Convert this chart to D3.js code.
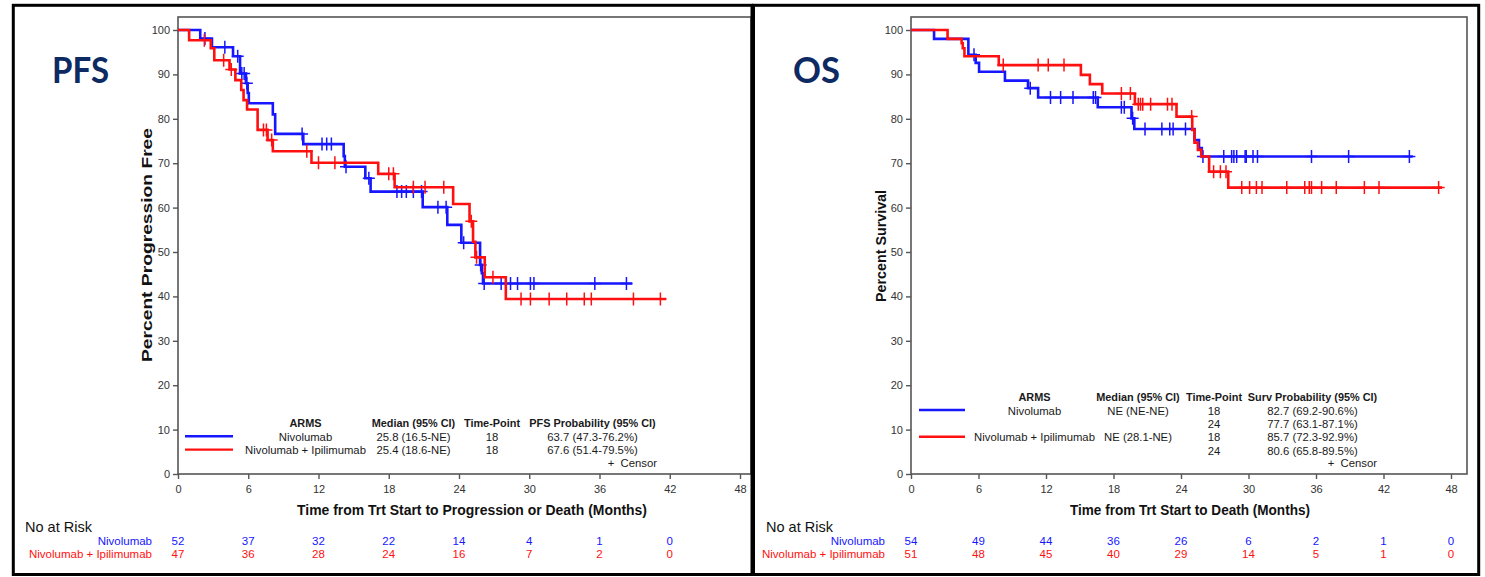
<!DOCTYPE html>
<html><head><meta charset="utf-8">
<script src="https://cdn.jsdelivr.net/npm/d3@7"></script>
<style>
body{margin:0;background:#fff}
svg{display:block}
text{font-family:"Liberation Sans",Arial,sans-serif}
</style>
</head><body>
<svg id="c" width="1485" height="577"></svg>
<script>
// ---------------- DATA ----------------
const timeTicks = [0, 6, 12, 18, 24, 30, 36, 42, 48];
const pctTicks = [0, 10, 20, 30, 40, 50, 60, 70, 80, 90, 100];
const armNames = ["Nivolumab", "Nivolumab + Ipilimumab"];

// PFS – Kaplan-Meier steps [month, percent]
const pfsNivoSteps = [[0,100],[1.9,98.1],[2.9,96.1],[4.7,94.1],[5.3,90.2],[5.8,88.0],[5.95,85.8],[6.05,83.5],[8.1,81.0],[8.3,76.6],[10.7,74.3],[14.15,71.6],[14.25,69.2],[16.0,66.6],[16.45,63.6],[20.9,60.1],[23.0,56.1],[24.2,52.1],[25.8,47.1],[25.95,45.2],[26.05,42.9]];
const pfsNivoEnd = 38.8;
const pfsNivoCensor = [2.3,4.0,5.1,5.45,5.65,5.88,10.6,12.3,12.7,13.1,14.35,16.3,18.7,19.1,19.5,20.1,20.8,22.2,22.9,24.4,25.85,26.15,27.6,28.4,29.0,30.1,30.4,35.6,38.3];
const pfsComboSteps = [[0,100],[0.95,97.7],[2.8,95.9],[3.1,93.2],[4.4,91.1],[4.9,88.7],[5.4,86.5],[5.6,84.2],[5.9,82.1],[6.8,77.5],[7.65,75.2],[8.1,72.7],[11.4,70.1],[17.1,67.6],[18.5,64.6],[23.5,60.8],[24.9,56.9],[25.2,52.3],[25.4,48.8],[26.2,44.3],[28.0,39.4]];
const pfsComboEnd = 41.7;
const pfsComboCensor = [2.25,3.9,4.55,7.3,7.55,8.0,11.0,12.0,13.4,18.0,18.4,20.1,21.1,22.7,25.05,25.5,26.9,29.3,30.1,31.7,33.2,34.7,35.3,38.9,41.2];

// OS – Kaplan-Meier steps [month, percent]
const osNivoSteps = [[0,100],[2.05,98.0],[5.1,94.4],[5.75,92.6],[6.05,90.6],[8.35,88.6],[10.4,86.9],[11.3,84.8],[16.6,82.6],[19.6,80.1],[19.85,77.7],[25.2,75.2],[25.6,73.4],[25.85,71.5]];
const osNivoEnd = 44.6;
const osNivoCensor = [5.6,10.6,12.4,13.3,14.4,16.2,16.4,18.7,18.96,19.7,20.8,22.3,23.0,23.3,24.4,25.95,27.8,28.5,28.7,28.95,29.7,29.8,30.4,30.8,35.6,38.9,44.3];
const osComboSteps = [[0,100],[3.25,98.0],[4.5,97.0],[4.6,95.9],[4.75,94.1],[7.8,92.1],[15.1,89.9],[15.9,87.8],[17.0,85.7],[19.9,83.3],[23.6,80.5],[25.0,77.5],[25.2,74.6],[25.5,73.0],[25.8,71.5],[26.5,68.1],[28.2,64.5]];
const osComboEnd = 47.2;
const osComboCensor = [8.2,11.3,12.2,13.6,18.7,19.5,20.2,20.4,20.6,21.3,22.8,23.2,24.95,26.9,27.5,28.0,29.4,30.1,30.7,31.2,33.4,35.0,35.4,35.6,36.5,37.8,40.3,41.6,46.9];

// Numbers at risk
const pfsRiskNivo = [52, 37, 32, 22, 14, 4, 1, 0];
const pfsRiskCombo = [47, 36, 28, 24, 16, 7, 2, 0];
const osRiskNivo = [54, 49, 44, 36, 26, 6, 2, 1, 0];
const osRiskCombo = [51, 48, 45, 40, 29, 14, 5, 1, 0];

// Legend tables
const pfsLegendHeader = ["ARMS", "Median (95% CI)", "Time-Point", "PFS Probability (95% CI)"];
const pfsLegendRows = [
  ["Nivolumab", "25.8 (16.5-NE)", "18", "63.7 (47.3-76.2%)"],
  ["Nivolumab + Ipilimumab", "25.4 (18.6-NE)", "18", "67.6 (51.4-79.5%)"]
];
const osLegendHeader = ["ARMS", "Median (95% CI)", "Time-Point", "Surv Probability (95% CI)"];
const osLegendRows = [
  ["Nivolumab", "NE (NE-NE)", "18", "82.7 (69.2-90.6%)"],
  ["", "", "24", "77.7 (63.1-87.1%)"],
  ["Nivolumab + Ipilimumab", "NE (28.1-NE)", "18", "85.7 (72.3-92.9%)"],
  ["", "", "24", "80.6 (65.8-89.5%)"]
];

// ---------------- DRAW ----------------
const BLUE = "#1616ff", RED = "#ff1010", NAVY = "#0d2a63", AX = "#555";
const svg = d3.select("#c");

function txt(g, x, y, s, o = {}) {
  const t = g.append("text").attr("x", x).attr("y", y).text(s)
    .attr("font-size", o.size || 11).attr("fill", o.fill || "#1a1a1a")
    .attr("text-anchor", o.anchor || "start").attr("dy", o.dy || "0.35em")
    .style("white-space", "pre");
  if (o.weight) t.attr("font-weight", o.weight);
  if (o.family) t.style("font-family", o.family);
  if (o.len) t.attr("textLength", o.len).attr("lengthAdjust", "spacingAndGlyphs");
  if (o.rotate) t.attr("transform", `rotate(${o.rotate},${x},${y})`);
  return t;
}

function stepValue(steps, t) {
  let v = steps[0][1];
  for (const s of steps) { if (s[0] <= t) v = s[1]; else break; }
  return v;
}

function panel(cfg) {
  const g = svg.append("g");
  const x = d3.scaleLinear().domain([0, 48]).range([cfg.x0, cfg.x1]);
  const y = d3.scaleLinear().domain([0, 100]).range([474, 30]);

  // plot frame
  g.append("rect").attr("x", cfg.x0).attr("y", 17).attr("width", cfg.frameR - cfg.x0).attr("height", 474 - 17)
    .attr("fill", "none").attr("stroke", AX).attr("stroke-width", 1.6);

  // axes
  const ax = g.append("g").attr("transform", "translate(0,474)")
    .call(d3.axisBottom(x).tickValues(timeTicks).tickSize(5).tickPadding(6));
  const ay = g.append("g").attr("transform", `translate(${cfg.x0},0)`)
    .call(d3.axisLeft(y).tickValues(pctTicks).tickSize(5).tickPadding(3));
  [ax, ay].forEach(a => {
    a.select(".domain").remove();
    a.selectAll("line").attr("stroke", AX).attr("stroke-width", 1.4);
    a.selectAll("text").attr("font-size", 11).attr("fill", "#333")
      .style("font-family", '"Liberation Sans",Arial,sans-serif');
  });

  // curves
  const line = d3.line().x(d => x(d[0])).y(d => y(d[1])).curve(d3.curveStepAfter);
  cfg.curves.forEach(c => {
    const pts = c.steps.concat([[c.end, c.steps[c.steps.length - 1][1]]]);
    g.append("path").attr("d", line(pts)).attr("fill", "none")
      .attr("stroke", c.color).attr("stroke-width", 2.6);
    g.append("g").selectAll("path").data(c.censor).join("path")
      .attr("d", t => {
        const px = x(t), py = y(stepValue(c.steps, t));
        return `M${px - 6},${py}H${px + 6}M${px},${py - 6.5}V${py + 6.5}`;
      })
      .attr("fill", "none").attr("stroke", c.color).attr("stroke-width", 1.5);
  });

  // titles
  txt(g, cfg.titleX, 70, cfg.title, { size: 36, weight: "bold", fill: NAVY, family: "Lato, 'Open Sans', sans-serif", dy: 0, len: cfg.titleLen });
  txt(g, cfg.yLabX, cfg.yLabY, cfg.yLabel, { size: 14, weight: "bold", anchor: "middle", rotate: -90, dy: 0, len: cfg.yLabLen, fill: "#111" });
  txt(g, cfg.xLabX, 510, cfg.xLabel, { size: 14.5, weight: "bold", anchor: "middle", len: cfg.xLabLen, fill: "#111" });

  // legend table
  const L = cfg.legend;
  L.header.forEach((h, i) => txt(g, L.cols[i], L.y0, h, { size: 10.9, weight: "bold", anchor: "middle" }));
  L.rows.forEach((r, j) => {
    const yy = L.y0 + (j + 1) * 13.35;
    r.forEach((s, i) => { if (s) txt(g, L.cols[i], yy, s, { size: 11.3, anchor: "middle" }); });
  });
  L.lines.forEach(l => {
    const yy = L.y0 + (l.row + 1) * 13.35 - 0.6;
    g.append("line").attr("x1", L.lx0).attr("x2", L.lx1).attr("y1", yy).attr("y2", yy)
      .attr("stroke", l.color).attr("stroke-width", 2.4);
  });
  txt(g, L.censorX, 463.5, "+\u00a0\u00a0Censor", { size: 11.3, anchor: "end" });

  // at risk
  txt(g, cfg.riskTitleX, 527, "No at Risk", { size: 14.5, fill: "#111" });
  cfg.risk.forEach((r, j) => {
    const yy = 541 + j * 13.4;
    txt(g, cfg.riskLabelR, yy, armNames[j], { size: 11.5, anchor: "end", fill: r.color });
    r.values.forEach((v, i) => txt(g, x(timeTicks[i]), yy, v, { size: 11.5, anchor: "middle", fill: r.color }));
  });
}

panel({
  x0: 178, x1: 740, frameR: 751,
  title: "PFS", titleX: 52, titleLen: 57,
  yLabel: "Percent Progression Free", yLabX: 147, yLabY: 245, yLabLen: 234,
  xLabel: "Time from Trt Start to Progression or Death (Months)", xLabX: 472, xLabLen: 350,
  curves: [
    { steps: pfsNivoSteps, end: pfsNivoEnd, censor: pfsNivoCensor, color: BLUE },
    { steps: pfsComboSteps, end: pfsComboEnd, censor: pfsComboCensor, color: RED }
  ],
  legend: {
    header: pfsLegendHeader, rows: pfsLegendRows, y0: 423.5,
    cols: [305.5, 413.5, 492, 592.5], lx0: 185, lx1: 233,
    lines: [{ row: 0, color: BLUE }, { row: 1, color: RED }], censorX: 657
  },
  riskTitleX: 25, riskLabelR: 152,
  risk: [{ values: pfsRiskNivo, color: BLUE }, { values: pfsRiskCombo, color: RED }]
});

panel({
  x0: 911, x1: 1451, frameR: 1467,
  title: "OS", titleX: 793, titleLen: 47,
  yLabel: "Percent Survival", yLabX: 881, yLabY: 246, yLabLen: 112,
  xLabel: "Time from Trt Start to Death (Months)", xLabX: 1190, xLabLen: 240,
  curves: [
    { steps: osNivoSteps, end: osNivoEnd, censor: osNivoCensor, color: BLUE },
    { steps: osComboSteps, end: osComboEnd, censor: osComboCensor, color: RED }
  ],
  legend: {
    header: osLegendHeader, rows: osLegendRows, y0: 397.3,
    cols: [1034.5, 1138, 1214, 1312.5], lx0: 919, lx1: 965,
    lines: [{ row: 0, color: BLUE }, { row: 2, color: RED }], censorX: 1377
  },
  riskTitleX: 766, riskLabelR: 885,
  risk: [{ values: osRiskNivo, color: BLUE }, { values: osRiskCombo, color: RED }]
});

// outer panel borders
svg.append("rect").attr("x", 13.3).attr("y", 5.3).attr("width", 752 - 13.3).attr("height", 574.5 - 5.3)
  .attr("fill", "none").attr("stroke", "#000").attr("stroke-width", 3);
svg.append("rect").attr("x", 753.5).attr("y", 5.3).attr("width", 1478.7 - 753.5).attr("height", 574.5 - 5.3)
  .attr("fill", "none").attr("stroke", "#000").attr("stroke-width", 3);
</script>
</body></html>
